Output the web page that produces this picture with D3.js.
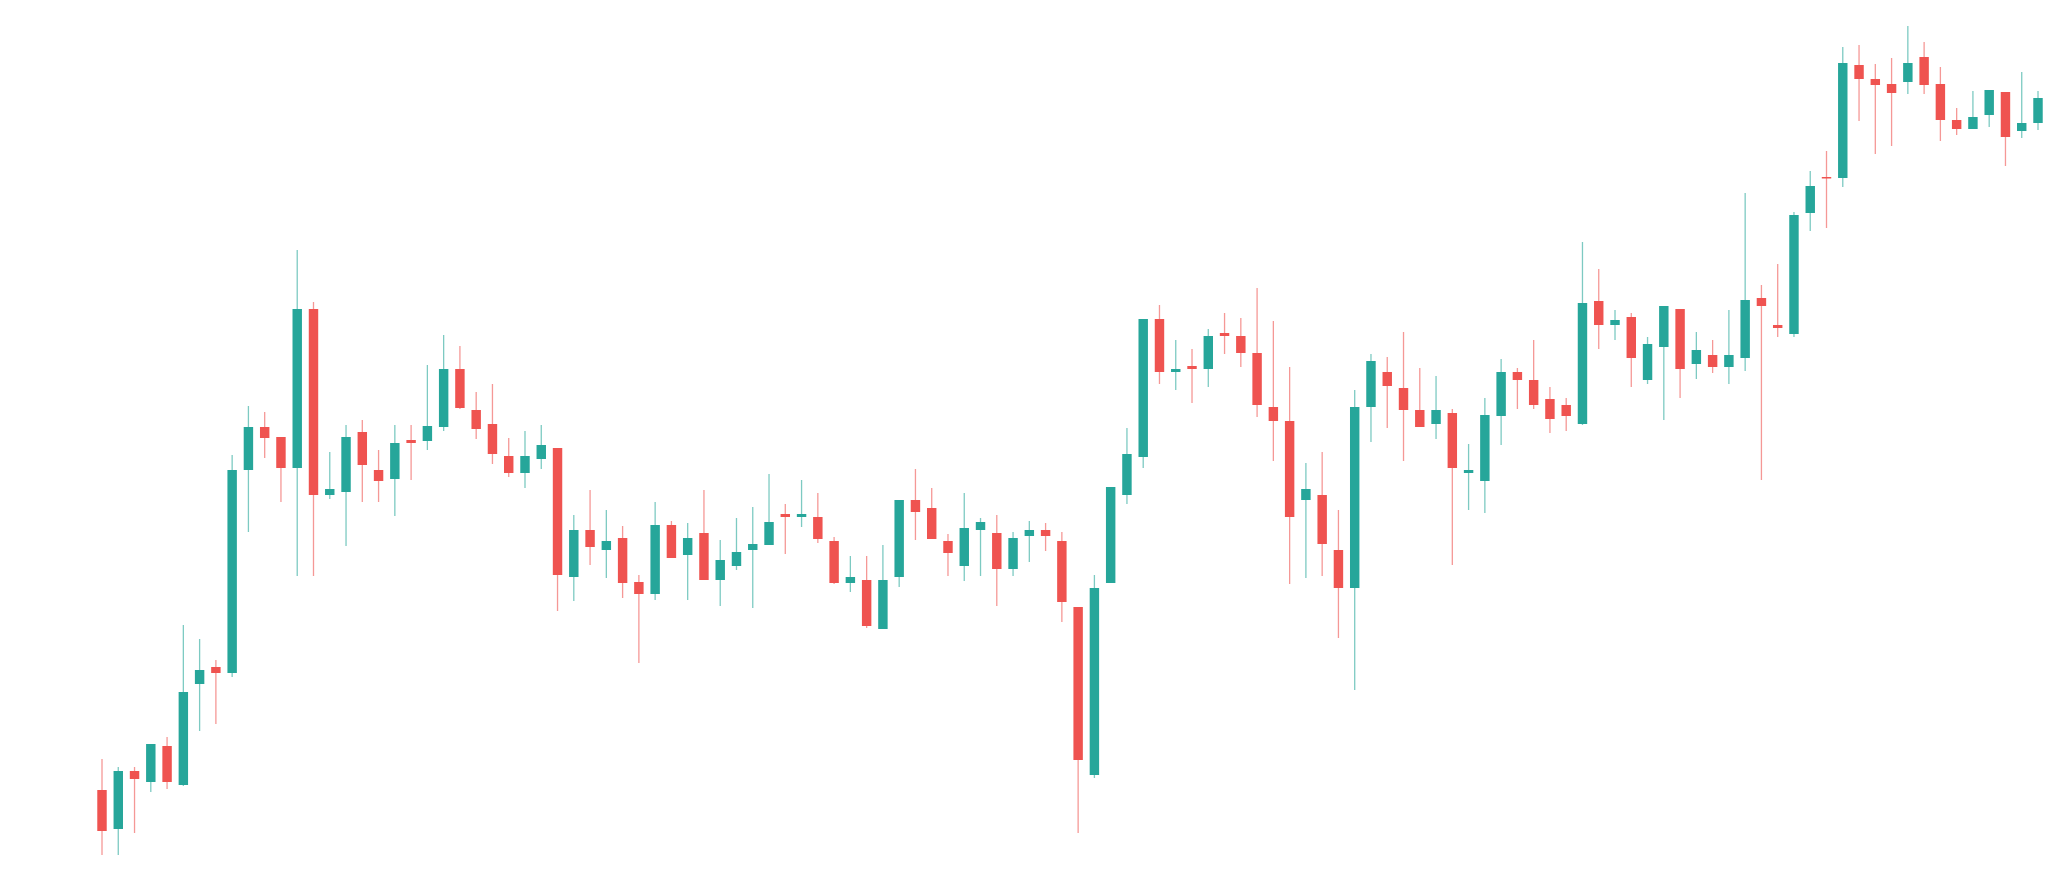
<!DOCTYPE html>
<html>
<head>
<meta charset="utf-8">
<script src="https://cdn.jsdelivr.net/npm/d3@7"></script>
<style>
html,body{margin:0;padding:0;background:#ffffff;}
svg{display:block;}
</style>
</head>
<body>
<svg id="chart" width="2059" height="874"></svg>
<script>
const openVals = [110,71,129,118,154,115,216,233,227,430,473,463,432,591,405,408,468,430,421,460,459,473,531,490,476,444,427,441,452,323,370,350,362,318,306,375,345,367,320,334,350,355,386,383,383,359,317,320,271,323,400,392,359,334,370,367,331,364,370,359,293,125,317,405,443,581,528,534,531,567,564,547,493,479,400,405,350,312,493,528,512,490,476,487,427,419,484,528,520,501,495,476,599,575,583,520,553,591,536,545,533,542,602,575,566,687,723,722,835,821,816,818,843,816,780,771,785,808,769,777];
const highVals = [141,133,133,156,163,275,261,240,445,494,488,463,650,598,448,475,480,450,475,475,535,565,554,508,516,462,469,475,452,385,410,390,374,325,398,379,377,410,360,382,393,426,396,420,407,363,344,344,355,400,431,412,366,407,382,385,368,379,377,368,293,325,413,472,581,595,560,551,571,587,582,612,579,533,437,448,390,510,546,543,568,532,524,491,456,502,541,532,560,513,502,658,631,590,587,563,594,591,568,560,590,707,615,636,688,729,749,853,855,836,842,874,858,833,792,809,810,808,828,809];
const lowVals = [45,45,67,108,111,114,169,176,223,368,442,398,324,324,401,354,398,398,384,420,450,469,491,461,436,423,412,431,289,299,335,322,302,237,300,342,300,320,294,330,292,355,346,373,357,316,308,272,271,313,360,361,324,319,324,294,324,338,349,278,67,122,317,396,432,516,510,497,513,546,533,483,439,316,322,324,262,210,458,472,439,473,461,335,390,387,455,491,491,467,469,475,551,560,513,516,480,502,521,527,516,529,420,563,563,669,672,713,779,746,754,806,806,759,765,771,773,734,762,770];
const closeVals = [69,129,121,156,118,208,230,227,430,473,462,432,591,405,411,463,435,419,457,457,474,531,492,471,446,427,444,455,325,370,353,359,317,306,375,342,362,320,340,348,356,378,383,386,361,317,323,274,320,400,388,361,347,372,378,331,362,370,364,298,140,312,413,446,581,528,531,531,564,564,547,495,479,383,411,356,312,493,539,514,490,473,490,432,430,485,528,520,495,481,484,597,575,580,542,556,594,531,550,533,545,600,594,572,685,714,722,837,821,815,807,837,815,780,771,783,810,763,777,802];
const days = d3.range(1, openVals.length + 1);

const upColor = "#26a69a";
const downColor = "#ef5350";

const data = days.map((d, i) => ({
  day: d,
  open: openVals[i], high: highVals[i], low: lowVals[i], close: closeVals[i]
}));

const svg = d3.select("#chart");
const x = d3.scalePoint().domain(days).range([102, 2038]);
const y = d3.scaleLinear().domain([0, 900]).range([900, 0]);
const bodyW = x.step() * 0.58;

const g = svg.append("g");

g.selectAll("line.wick")
  .data(data)
  .join("line")
  .attr("class", "wick")
  .attr("x1", d => x(d.day))
  .attr("x2", d => x(d.day))
  .attr("y1", d => y(d.high))
  .attr("y2", d => y(d.low))
  .attr("stroke", d => d.close >= d.open ? upColor : downColor)
  .attr("stroke-opacity", 0.6)
  .attr("stroke-width", 1.3);

g.selectAll("rect.body")
  .data(data)
  .join("rect")
  .attr("class", "body")
  .attr("x", d => x(d.day) - bodyW / 2)
  .attr("width", bodyW)
  .attr("y", d => y(Math.max(d.open, d.close)))
  .attr("height", d => Math.max(1.5, Math.abs(y(d.open) - y(d.close))))
  .attr("fill", d => d.close >= d.open ? upColor : downColor);
</script>
</body>
</html>
